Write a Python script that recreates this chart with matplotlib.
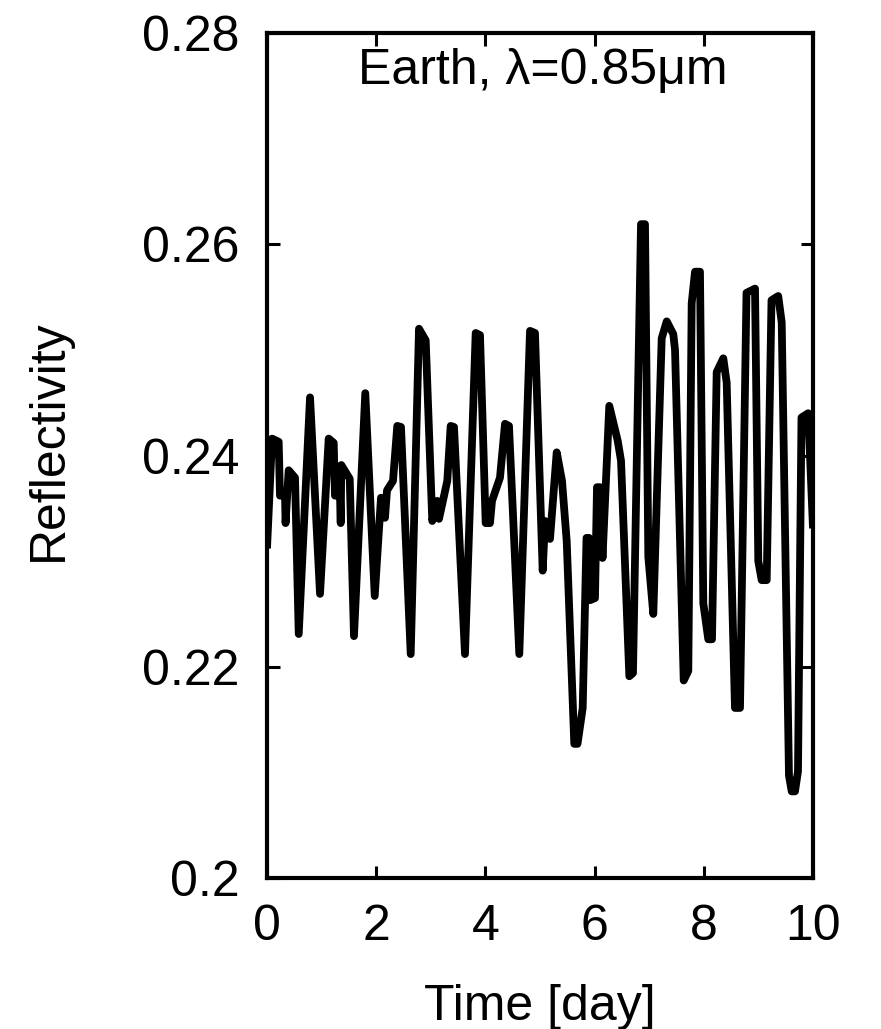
import matplotlib
matplotlib.use("Agg")
import matplotlib.pyplot as plt

# Time [day]
time_day = [0.000, 0.092, 0.214, 0.238, 0.330, 0.340, 0.397, 0.513, 0.581, 0.788,
            0.971, 1.130, 1.222, 1.245, 1.337, 1.350, 1.361, 1.515, 1.593, 1.800,
            1.973, 2.088, 2.161, 2.198, 2.308, 2.386, 2.454, 2.632, 2.784, 2.907,
            3.027, 3.119, 3.150, 3.302, 3.364, 3.425, 3.626, 3.822, 3.901, 4.005,
            4.084, 4.121, 4.267, 4.359, 4.432, 4.621, 4.817, 4.908, 5.049, 5.092,
            5.183, 5.306, 5.403, 5.489, 5.628, 5.687, 5.782, 5.852, 5.897, 5.916,
            6.007, 6.044, 6.099, 6.145, 6.269, 6.423, 6.484, 6.636, 6.703, 6.850,
            6.923, 6.984, 7.075, 7.229, 7.321, 7.441, 7.473, 7.632, 7.716, 7.778,
            7.839, 7.930, 7.991, 8.082, 8.150, 8.236, 8.357, 8.419, 8.571, 8.663,
            8.782, 8.938, 8.998, 9.060, 9.152, 9.240, 9.363, 9.427, 9.560, 9.610,
            9.670, 9.725, 9.789, 9.912, 9.945, 10.000]

reflectivity = [0.2312, 0.2416, 0.2413, 0.2362, 0.2362, 0.2336, 0.2386, 0.2379, 0.2231, 0.2455,
                0.2269, 0.2416, 0.2412, 0.2362, 0.2362, 0.2336, 0.2391, 0.2378, 0.2229, 0.2459,
                0.2267, 0.2360, 0.2341, 0.2367, 0.2376, 0.2428, 0.2427, 0.2212, 0.2520, 0.2509,
                0.2338, 0.2357, 0.2340, 0.2376, 0.2428, 0.2427, 0.2212, 0.2516, 0.2514, 0.2336,
                0.2336, 0.2357, 0.2379, 0.2430, 0.2428, 0.2212, 0.2518, 0.2516, 0.2291, 0.2338,
                0.2321, 0.2403, 0.2376, 0.2319, 0.2127, 0.2127, 0.2161, 0.2322, 0.2322, 0.2263,
                0.2265, 0.2370, 0.2370, 0.2303, 0.2447, 0.2414, 0.2395, 0.2191, 0.2194, 0.2619,
                0.2619, 0.2304, 0.2250, 0.2511, 0.2527, 0.2515, 0.2500, 0.2187, 0.2196, 0.2544,
                0.2574, 0.2574, 0.2260, 0.2226, 0.2226, 0.2479, 0.2492, 0.2469, 0.2161, 0.2161,
                0.2554, 0.2558, 0.2300, 0.2282, 0.2282, 0.2547, 0.2551, 0.2526, 0.2097, 0.2082,
                0.2082, 0.2101, 0.2436, 0.2440, 0.2400, 0.2331]

x_ticks = [0, 2, 4, 6, 8, 10]
x_tick_labels = ["0", "2", "4", "6", "8", "10"]
y_ticks = [0.20, 0.22, 0.24, 0.26, 0.28]
y_tick_labels = ["0.2", "0.22", "0.24", "0.26", "0.28"]
annotation = "Earth, λ=0.85μm"

plt.rcParams['font.family'] = ['Liberation Sans', 'DejaVu Sans']

FS = 36
W, H = 881, 1029
fig = plt.figure(figsize=(W / 100, H / 100), dpi=100)
ax = fig.add_axes([267 / W, 1 - 878 / H, (813 - 267) / W, (878 - 33) / H])

ax.plot(time_day, reflectivity, color='black', linewidth=5.6,
        solid_joinstyle='round', solid_capstyle='butt')

ax.set_xlim(0, 10)
ax.set_ylim(0.2, 0.28)
ax.set_xticks(x_ticks)
ax.set_xticklabels(x_tick_labels)
ax.set_yticks(y_ticks)
ax.set_yticklabels(y_tick_labels)

ax.tick_params(direction='in', length=9, width=2.2, top=True, right=True,
               labelsize=FS)
ax.tick_params(axis='x', pad=19)
ax.tick_params(axis='y', pad=20)
for s in ax.spines.values():
    s.set_linewidth(3.0)

ax.set_xlabel("Time [day]", fontsize=FS)
ax.set_ylabel("Reflectivity", fontsize=FS)
ax.xaxis.set_label_coords(0.5, -0.126)
ax.yaxis.set_label_coords(-0.357, 0.518)

ax.text(0.505, 0.940, annotation, transform=ax.transAxes, ha='center', va='baseline',
        fontsize=FS)

fig.savefig("out.png", dpi=100)
